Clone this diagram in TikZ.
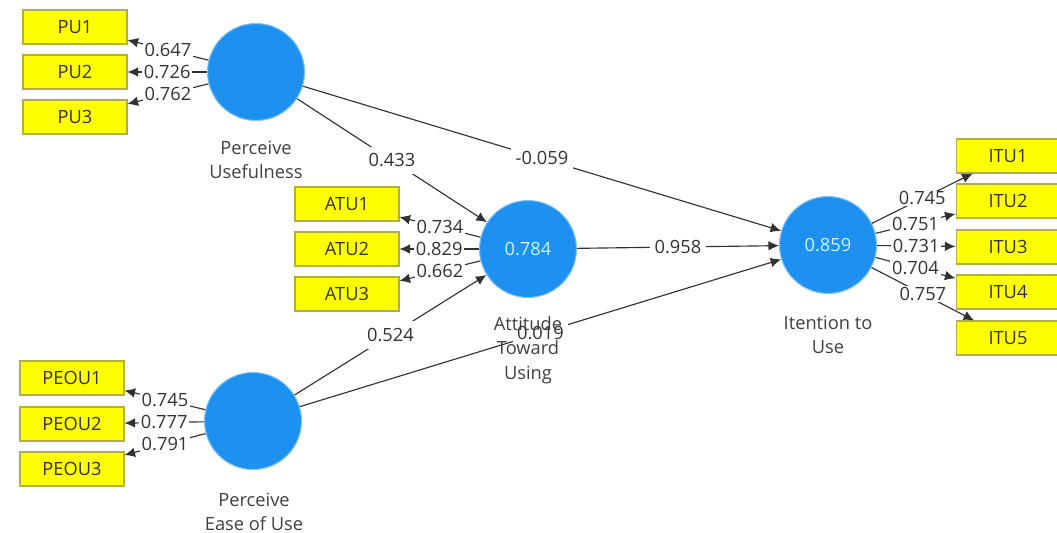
\documentclass[tikz,border=0pt]{standalone}
\usepackage{fontspec}
\setmainfont{Open Sans}
\usetikzlibrary{arrows.meta,positioning}
\definecolor{lvblue}{RGB}{30,144,240}
\definecolor{lvtext}{RGB}{205,242,255}
\definecolor{mvfill}{RGB}{255,255,0}
\definecolor{mvline}{RGB}{175,175,70}
\definecolor{pathgray}{RGB}{50,50,50}

\begin{document}
\begin{tikzpicture}[x=0.02cm,y=-0.02cm,
  font=\fontsize{10.4}{14}\selectfont,
  latent/.style={circle,fill=lvblue,draw=lvblue!55,line width=0.6pt,minimum size=1.94cm,inner sep=0pt,text=lvtext},
  manifest/.style={rectangle,fill=mvfill,draw=mvline,line width=0.6pt,minimum width=2.08cm,minimum height=0.68cm,inner sep=0pt,text=black!80},
  link/.style={draw=pathgray,line width=0.65pt,-{Latex[length=6pt,width=5.5pt]}},
  coef/.style={fill=white,inner xsep=2.5pt,inner ysep=4pt,text=black!80},
  load/.style={fill=white,inner xsep=1pt,inner ysep=0.5pt,text=black!80},
  lvname/.style={align=center,text=black!75}]
  \useasboundingbox (0,0) rectangle (1057,533);

  % latent variables
  \node[latent] (PU) at (256,72) {};
  \node[latent] (ATU) at (528,249) {0.784};
  \node[latent] (ITU) at (828,245) {0.859};
  \node[latent] (PEOU) at (253,421) {};

  % indicators
  \node[manifest] (PU1) at (75,27) {PU1};
  \node[manifest] (PU2) at (75,72) {PU2};
  \node[manifest] (PU3) at (75,117) {PU3};
  \node[manifest] (ATU1) at (347,204) {ATU1};
  \node[manifest] (ATU2) at (347,249) {ATU2};
  \node[manifest] (ATU3) at (347,294) {ATU3};
  \node[manifest] (PEOU1) at (72,378) {PEOU1};
  \node[manifest] (PEOU2) at (72,424) {PEOU2};
  \node[manifest] (PEOU3) at (72,469) {PEOU3};
  \node[manifest] (ITU1) at (1008,156) {ITU1};
  \node[manifest] (ITU2) at (1008,201) {ITU2};
  \node[manifest] (ITU3) at (1008,247) {ITU3};
  \node[manifest] (ITU4) at (1008,292) {ITU4};
  \node[manifest] (ITU5) at (1008,338) {ITU5};

  % outer loadings
  \draw[link] (PU) -- node[load] {0.647} (PU1);
  \draw[link] (PU) -- node[load] {0.726} (PU2);
  \draw[link] (PU) -- node[load] {0.762} (PU3);
  \draw[link] (ATU) -- node[load] {0.734} (ATU1);
  \draw[link] (ATU) -- node[load] {0.829} (ATU2);
  \draw[link] (ATU) -- node[load] {0.662} (ATU3);
  \draw[link] (PEOU) -- node[load] {0.745} (PEOU1);
  \draw[link] (PEOU) -- node[load] {0.777} (PEOU2);
  \draw[link] (PEOU) -- node[load] {0.791} (PEOU3);
  \draw[link] (ITU) -- node[load] {0.745} (ITU1);
  \draw[link] (ITU) -- node[load] {0.751} (ITU2);
  \draw[link] (ITU) -- node[load] {0.731} (ITU3);
  \draw[link] (ITU) -- node[load] {0.704} (ITU4);
  \draw[link] (ITU) -- node[load] {0.757} (ITU5);

  % path coefficients
  \draw[link] (PU) -- node[coef] {0.433} (ATU);
  \draw[link] (PU) -- node[coef] {-0.059} (ITU);
  \draw[link] (ATU) -- node[coef] {0.958} (ITU);
  \draw[link] (PEOU) -- node[coef] {0.524} (ATU);
  \draw[link] (PEOU) -- node[coef] {0.019} (ITU);

  % construct names
  \node[lvname] (PUname) at (256,160) {Perceive\\Usefulness};
  \node[lvname] (ATUname) at (528,350) {Attitude\\Toward\\Using};
  \node[lvname] (ITUname) at (828,335) {Itention to\\Use};
  \node[lvname] (PEOUname) at (254,512) {Perceive\\Ease of Use};
\end{tikzpicture}
\end{document}
